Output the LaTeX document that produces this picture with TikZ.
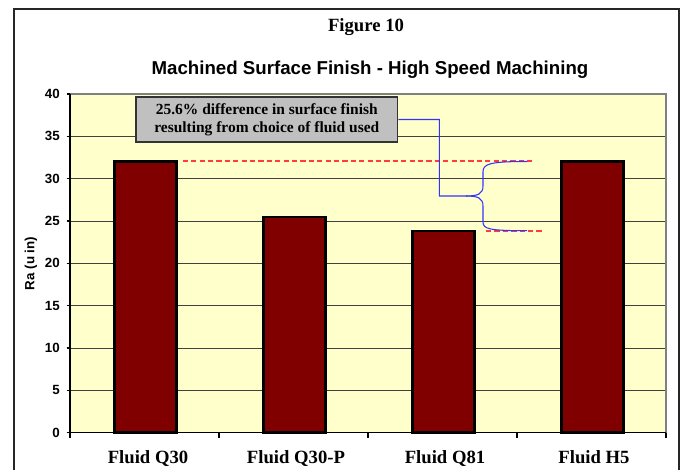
\documentclass[tikz,border=0pt]{standalone}
\usepackage{fontspec}
\setmainfont{Liberation Serif}
\setsansfont{Liberation Sans}
\definecolor{plotbg}{HTML}{FFFFCC}
\definecolor{barfill}{HTML}{800000}
\definecolor{boxfill}{HTML}{C0C0C0}
\definecolor{braceblue}{HTML}{3333FF}
\definecolor{dashred}{HTML}{FF3B3B}
\begin{document}
\begin{tikzpicture}[x=0.75pt,y=-0.75pt,
  frameline/.style={draw=black!85,line width=1.5pt},
  figtitle/.style={font=\fontsize{14}{16}\selectfont\bfseries,inner sep=0pt,anchor=base},
  subtitle/.style={font=\sffamily\fontsize{14}{16}\selectfont\bfseries,inner sep=0pt,anchor=base},
  ylab/.style={font=\sffamily\fontsize{10}{12}\selectfont\bfseries,inner sep=0pt,anchor=east},
  catlab/.style={font=\fontsize{14}{16}\selectfont\bfseries,inner sep=0pt,anchor=base},
  gridline/.style={draw=black!75,line width=0.7pt},
  axisline/.style={draw=black,line width=0.8pt},
  barbox/.style={fill=barfill,draw=black,line width=1.9pt},
  callout/.style={fill=boxfill,draw=black!80,line width=0.9pt,align=center,
    font=\fontsize{11.6}{13.8}\selectfont\bfseries,minimum width=196.3pt,minimum height=33.8pt,inner sep=0pt},
  braceline/.style={draw=braceblue,line width=0.8pt},
  reddash/.style={draw=dashred,line width=1.5pt,dash pattern=on 4pt off 2.3pt}
]
\useasboundingbox (0,0) rectangle (682,470);
\clip (0,0) rectangle (682,470);
\fill[white] (0,0) rectangle (682,470);
\draw[frameline] (14,480) -- (14,9) -- (679,9) -- (679,480);

\node[figtitle] (fig) at (366,31.9) {Figure 10};
\node[subtitle] (sub) at (370,75) {Machined Surface Finish - High Speed Machining};

% plot area
\fill[plotbg] (70,94) rectangle (666,432.7);
\foreach \v in {5,10,...,35}
  \draw[gridline] (70,{432.7-\v*8.4675}) -- (666,{432.7-\v*8.4675});
\draw[draw=black!50,line width=0.8pt] (70,94) -- (666,94) -- (666,432.7);
\draw[axisline] (70,94) -- (70,432.7) -- (666,432.7);
\foreach \v in {0,5,...,40} {
  \draw[axisline] (66.5,{432.7-\v*8.4675}) -- (70,{432.7-\v*8.4675});
  \node[ylab] at (60,{432.7-\v*8.4675}) {\v};
}
\foreach \x in {70,219,368,517,666}
  \draw[axisline] (\x,432.7) -- (\x,438);
\node[ylab,anchor=center,rotate=90] (ylabel) at (31,263.4) {Ra (u in)};

% bars
\draw[barbox] (114.3,432.7) rectangle (176.3,{432.7-32*8.4675});
\draw[barbox] (263.3,432.7) rectangle (325.3,{432.7-25.5*8.4675});
\draw[barbox] (412.4,432.7) rectangle (474.6,{432.7-23.8*8.4675});
\draw[barbox] (561.3,432.7) rectangle (623.3,{432.7-32*8.4675});

\node[catlab] (c1) at (148,463.2) {Fluid Q30};
\node[catlab] (c2) at (296,463.2) {Fluid Q30-P};
\node[catlab] (c3) at (445,463.2) {Fluid Q81};
\node[catlab] (c4) at (594,463.2) {Fluid H5};

% red dashed reference lines
\coordinate (r1a) at (182.7,161.5);
\coordinate (r1b) at (535,161.5);
\coordinate (r2a) at (486,230.7);
\coordinate (r2b) at (542,230.7);
\draw[reddash] (r1a) -- (r1b);
\draw[reddash] (r2a) -- (r2b);

% callout
\node[callout] (note) at (266.8,119.5) {25.6\% difference in surface finish\\resulting from choice of fluid used};

% brace connector
\coordinate (tip) at (439.3,196);
\coordinate (up) at (527,161.5);
\coordinate (dn) at (527,230.7);
\draw[braceline] (note.east) -| (tip) -- (466,196)
  .. controls (478,196) and (483,194) .. (483,186) -- (483,172)
  .. controls (483,164) and (489,161.5) .. (up);
\draw[braceline] (466,196)
  .. controls (478,196) and (483,198) .. (483,206) -- (483,222)
  .. controls (483,229) and (489,230.7) .. (dn);
\end{tikzpicture}
\end{document}
